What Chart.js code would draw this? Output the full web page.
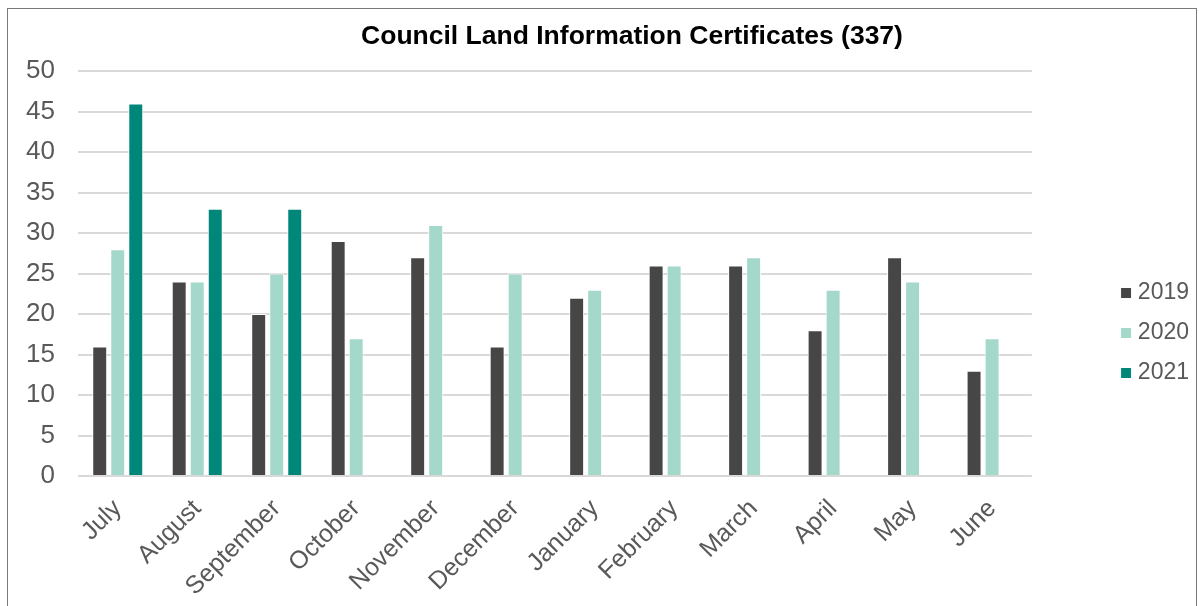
<!DOCTYPE html>
<html>
<head>
<meta charset="utf-8">
<script src="https://cdn.jsdelivr.net/npm/chart.js@4.4.1/dist/chart.umd.min.js"></script>
<style>
  html, body { margin: 0; padding: 0; background: #fff; overflow: hidden; }
  #frame { position: absolute; left: 7px; top: 8px; width: 1188px; height: 650px; border: 1px solid #7a7a7a; }
  #chart { display: block; }
</style>
</head>
<body>
<div id="frame"><canvas id="chart" width="1188" height="620"></canvas></div>
<script>
// data
var chartTitle = "Council Land Information Certificates (337)";
var months = ["July", "August", "September", "October", "November", "December",
              "January", "February", "March", "April", "May", "June"];
var seriesNames = ["2019", "2020", "2021"];
var v2019 = [16, 24, 20, 29, 27, 16, 22, 26, 26, 18, 27, 13];
var v2020 = [28, 24, 25, 17, 31, 25, 23, 26, 27, 23, 24, 17];
var v2021 = [46, 33, 33, null, null, null, null, null, null, null, null, null];
var yMin = 0, yMax = 50, yStep = 5;

var colors = ["#464646", "#a3d8ca", "#00877a"];
var textGray = "#595959";
var fontFamily = '"Liberation Sans", Arial, sans-serif';

// title drawn a bit right of centre, like the original
var titlePlugin = {
    id: 'titleText',
    afterDraw: function(chart) {
        var ctx = chart.ctx;
        ctx.save();
        ctx.font = 'bold 26.5px ' + fontFamily;
        ctx.fillStyle = '#000';
        ctx.textAlign = 'center';
        ctx.textBaseline = 'middle';
        ctx.fillText(chartTitle, chart.width / 2 + 30, 28);
        ctx.restore();
    }
};

function bars(label, data, color) {
    return {
        label: label,
        data: data,
        backgroundColor: color,
        borderColor: '#ffffff',
        borderWidth: 1,
        categoryPercentage: 0.68,
        barPercentage: 0.83
    };
}

var ctx = document.getElementById("chart").getContext('2d');
var myChart = new Chart(ctx, {
    type: 'bar',
    data: {
        labels: months,
        datasets: [
            bars(seriesNames[0], v2019, colors[0]),
            bars(seriesNames[1], v2020, colors[1]),
            bars(seriesNames[2], v2021, colors[2])
        ]
    },
    options: {
        responsive: false,
        animation: false,
        layout: { padding: { top: 62, left: 0, right: -3, bottom: 34 } },
        plugins: {
            title: { display: false },
            tooltip: { enabled: false },
            legend: {
                position: 'right',
                labels: {
                    usePointStyle: true,
                    pointStyle: 'rect',
                    boxWidth: 0.5,
                    boxHeight: 11,
                    padding: 17,
                    color: textGray,
                    font: { family: fontFamily, size: 23 }
                }
            }
        },
        scales: {
            x: {
                grid: { display: false, drawTicks: false },
                border: { display: false },
                ticks: {
                    color: textGray,
                    font: { family: fontFamily, size: 25 },
                    minRotation: 45,
                    maxRotation: 45,
                    autoSkip: false,
                    padding: 18
                },
                afterFit: function(s) { s.height = 119; }
            },
            y: {
                min: yMin,
                max: yMax,
                grid: { color: '#d9d9d9', lineWidth: 2, drawTicks: false },
                border: { display: false },
                ticks: {
                    stepSize: yStep,
                    color: textGray,
                    font: { family: fontFamily, size: 26 },
                    padding: 23
                },
                afterFit: function(s) { s.width = 70; }
            },
            gap: {
                type: 'linear',
                position: 'right',
                grid: { display: false, drawTicks: false },
                border: { display: false },
                ticks: { display: false },
                afterFit: function(s) { s.width = 77; }
            }
        }
    },
    plugins: [titlePlugin]
});
</script>
</body>
</html>
